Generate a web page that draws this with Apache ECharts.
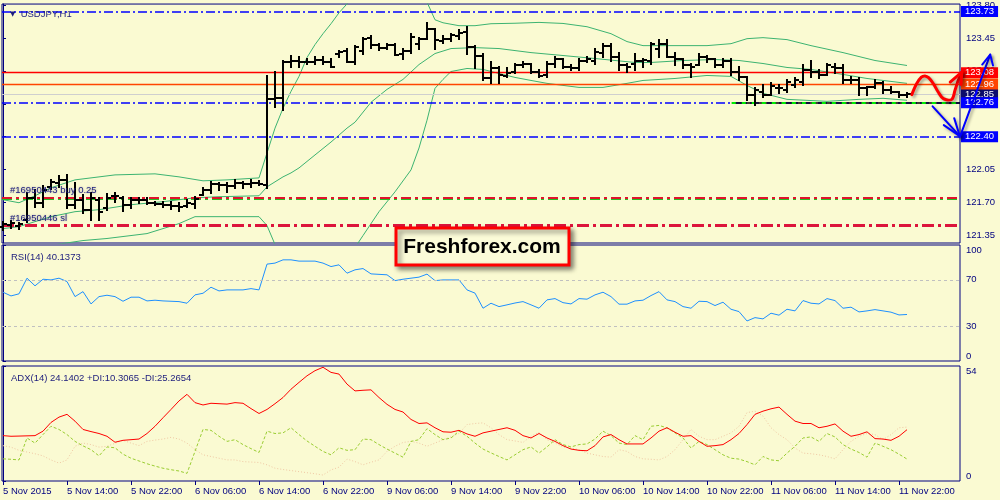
<!DOCTYPE html>
<html><head><meta charset="utf-8">
<script src="https://cdn.jsdelivr.net/npm/echarts@6/dist/echarts.min.js"></script>
<style>html,body{margin:0;padding:0;background:#fafad2;}#c{width:1000px;height:500px;}</style>
</head><body><div id="c"></div>
<script>
// ---------- data ----------
const timeLabels = ['5 Nov 2015','5 Nov 14:00','5 Nov 22:00','6 Nov 06:00','6 Nov 14:00','6 Nov 22:00','9 Nov 06:00','9 Nov 14:00','9 Nov 22:00','10 Nov 06:00','10 Nov 14:00','10 Nov 22:00','11 Nov 06:00','11 Nov 14:00','11 Nov 22:00'];
const timeLabelIndex = [0,8,16,24,32,40,48,56,64,72,80,88,96,104,112];

const opens = [121.444,121.466,121.455,121.518,121.751,121.698,121.867,121.909,121.941,121.677,
121.730,121.624,121.730,121.645,121.772,121.751,121.677,121.730,121.730,121.698,
121.688,121.677,121.666,121.666,121.688,121.783,121.836,121.899,121.888,121.878,
121.909,121.899,121.909,121.888,122.797,122.808,123.189,123.210,123.189,123.189,
123.220,123.199,123.284,123.315,123.189,123.315,123.453,123.379,123.347,123.379,
123.284,123.315,123.389,123.442,123.548,123.421,123.442,123.474,123.516,123.358,
123.263,123.019,123.125,123.041,123.083,123.157,123.178,123.083,123.051,123.178,
123.231,123.146,123.125,123.210,123.210,123.294,123.368,123.242,123.157,123.178,
123.210,123.210,123.337,123.389,123.252,123.231,123.167,123.167,123.242,123.231,
123.157,123.210,123.083,123.030,122.840,122.871,122.840,122.914,122.893,122.945,
122.977,123.104,123.083,123.051,123.146,123.125,122.998,122.998,122.914,122.924,
122.967,122.893,122.871,122.840];
const highs = [121.497,121.508,121.487,121.804,121.836,121.878,121.941,121.983,121.994,121.909,
121.783,121.804,121.751,121.793,121.804,121.762,121.751,121.751,121.751,121.709,
121.709,121.709,121.698,121.730,121.762,121.857,121.920,121.909,121.909,121.941,
121.920,121.941,121.931,123.041,123.083,123.210,123.263,123.252,123.231,123.242,
123.242,123.231,123.315,123.337,123.368,123.453,123.474,123.389,123.389,123.389,
123.337,123.495,123.453,123.611,123.548,123.474,123.495,123.537,123.569,123.368,
123.284,123.189,123.136,123.125,123.178,123.189,123.178,123.104,123.189,123.242,
123.231,123.157,123.231,123.242,123.337,123.389,123.389,123.294,123.178,123.284,
123.231,123.400,123.432,123.432,123.294,123.231,123.178,123.284,123.263,123.231,
123.231,123.231,123.136,123.030,122.914,122.945,122.967,122.945,122.998,123.019,
123.157,123.210,123.104,123.178,123.178,123.157,123.030,123.019,122.924,122.998,
122.977,122.924,122.871,122.861];
const lows = [121.413,121.434,121.423,121.497,121.656,121.656,121.846,121.867,121.645,121.645,
121.592,121.518,121.518,121.624,121.709,121.614,121.645,121.698,121.688,121.677,
121.656,121.635,121.614,121.656,121.645,121.783,121.804,121.836,121.814,121.857,
121.857,121.867,121.888,121.857,122.713,122.681,123.136,123.146,123.178,123.178,
123.178,123.146,123.242,123.189,123.178,123.284,123.347,123.326,123.337,123.273,
123.231,123.294,123.337,123.442,123.337,123.400,123.421,123.442,123.284,123.125,
122.998,122.967,122.967,123.030,123.072,123.136,123.072,123.030,123.030,123.136,
123.125,123.104,123.104,123.189,123.178,123.242,123.210,123.104,123.083,123.104,
123.136,123.178,123.242,123.242,123.167,123.125,123.030,123.157,123.199,123.136,
123.136,123.051,122.998,122.787,122.734,122.819,122.840,122.861,122.871,122.924,
122.945,123.030,123.019,123.051,123.072,122.967,122.967,122.840,122.840,122.914,
122.861,122.861,122.819,122.819];
const closes = [121.476,121.487,121.476,121.751,121.698,121.836,121.920,121.941,121.677,121.730,
121.624,121.751,121.603,121.751,121.772,121.677,121.730,121.730,121.698,121.688,
121.677,121.666,121.656,121.698,121.740,121.836,121.899,121.888,121.878,121.909,
121.899,121.909,121.899,122.797,122.808,123.189,123.210,123.189,123.189,123.220,
123.199,123.146,123.305,123.199,123.358,123.442,123.379,123.347,123.379,123.273,
123.315,123.463,123.442,123.548,123.432,123.442,123.485,123.506,123.358,123.263,
123.019,123.125,123.051,123.072,123.157,123.178,123.083,123.041,123.178,123.231,
123.146,123.125,123.210,123.231,123.305,123.368,123.242,123.157,123.146,123.210,
123.220,123.389,123.389,123.252,123.231,123.167,123.146,123.242,123.231,123.157,
123.210,123.083,123.030,122.840,122.893,122.840,122.935,122.914,122.977,122.998,
123.104,123.083,123.051,123.157,123.125,122.998,122.998,122.914,122.924,122.967,
122.893,122.871,122.840,122.850];

// Bollinger bands: [bar index, price]
const bbUpper = [[0,121.730],[2,121.698],[4,121.772],[6,121.857],[9,121.941],[14,121.994],[19,122.005],[22,121.973],[25,121.931],[28,121.941],[32,121.962],[33,122.227],[34,122.491],[35,122.702],[36,122.882],[37,123.041],[38,123.242],[39,123.379],[40,123.495],[41,123.601],[42,123.717],[43,123.812],[45,124.050],[48,124.120],[51,124.050],[52,124.000],[53,123.830],[54,123.643],[55,123.611],[57,123.580],[59,123.580],[61,123.601],[64,123.606],[67,123.615],[70,123.604],[73,123.569],[76,123.495],[78,123.411],[80,123.368],[84,123.368],[88,123.368],[91,123.389],[93,123.442],[95,123.453],[98,123.432],[101,123.368],[105,123.294],[109,123.210],[113,123.157]];
const bbMiddle = [[0,121.423],[2,121.444],[4,121.497],[6,121.550],[9,121.603],[12,121.624],[16,121.677],[20,121.709],[24,121.751],[27,121.762],[32,121.772],[33,121.867],[34,121.920],[35,121.973],[36,122.015],[37,122.068],[39,122.206],[41,122.343],[43,122.491],[44,122.554],[46,122.766],[48,122.903],[50,123.009],[52,123.167],[54,123.284],[56,123.337],[59,123.347],[62,123.337],[66,123.294],[70,123.263],[74,123.231],[79,123.189],[81,123.189],[85,123.210],[89,123.220],[92,123.210],[95,123.178],[98,123.136],[101,123.115],[105,123.062],[108,123.019],[113,122.967]];
const bbLower = [[0,121.148],[5,121.233],[10,121.296],[13,121.318],[18,121.370],[22,121.476],[24,121.550],[32,121.550],[33,121.455],[34,121.254],[35,121.117],[37,121.011],[40,120.969],[42,121.074],[44,121.222],[45,121.349],[47,121.603],[49,121.814],[51,122.047],[52,122.280],[53,122.575],[54,122.914],[55,123.009],[56,123.093],[58,123.125],[60,123.115],[62,123.072],[64,123.030],[66,122.998],[68,122.967],[72,122.924],[75,122.924],[78,122.967],[80,122.998],[84,123.019],[88,123.051],[91,123.041],[93,122.945],[95,122.861],[98,122.797],[103,122.776],[107,122.797],[110,122.808],[113,122.787]];

const rsi = [59.3,56.1,57.9,71.4,64.8,70.5,69.9,71.4,68.5,55.5,
59.8,49.2,55.5,56.7,55.5,51.5,55.0,55.0,51.8,52.4,
51.8,51.5,51.2,49.8,57.0,58.4,63.6,60.4,61.3,61.3,
61.3,62.4,61.3,83.5,84.4,87.2,87.2,86.1,86.1,86.1,
84.4,81.4,82.9,75.7,78.6,79.7,75.1,74.7,74.3,69.3,
70.5,71.4,72.3,74.9,69.3,69.9,69.9,69.9,61.3,58.5,
45.5,49.8,46.9,48.4,50.0,51.2,48.4,45.5,52.7,53.8,
50.3,49.2,53.8,53.3,57.0,59.3,55.5,49.0,49.0,51.8,
52.4,56.4,59.8,52.7,51.2,46.9,45.5,51.5,51.2,47.8,
50.7,44.6,42.6,34.5,37.4,36.3,41.2,39.5,44.6,43.2,
52.1,49.8,49.2,53.8,52.1,45.5,46.4,42.3,43.2,44.3,
43.2,42.1,39.7,40.1];
const adx = [21.3,21.0,21.1,21.2,21.3,23.4,27.5,30.0,31.3,28.1,
24.2,23.2,22.3,21.0,18.2,19.1,19.4,19.7,22.3,25.7,
29.7,33.6,37.6,40.7,36.8,35.7,36.5,36.3,36.1,36.8,
36.5,34.0,31.7,33.6,36.3,39.2,43.1,46.3,49.4,51.8,
53.4,51.0,50.2,45.5,42.3,42.6,42.8,39.2,36.0,33.6,
32.4,28.9,27.0,27.3,25.0,23.1,22.9,23.8,22.1,21.0,
22.6,23.4,24.2,25.0,23.8,21.3,20.2,22.3,20.2,18.6,
16.6,15.0,14.4,14.2,16.6,20.7,21.8,19.4,17.4,17.4,
17.4,20.2,23.4,25.0,22.9,21.0,21.3,18.6,16.3,16.6,
17.1,19.4,22.3,26.5,31.3,32.8,33.9,34.7,31.3,28.1,
27.0,27.0,25.0,25.7,26.8,23.4,21.0,21.8,23.1,19.9,
19.7,19.1,21.0,24.1];
const plusDi = [10.4,10.2,9.9,20.2,17.8,21.8,25.7,24.2,21.8,18.6,
16.5,14.7,11.8,16.0,15.6,12.6,10.7,9.4,8.1,7.0,
6.0,5.3,4.7,3.6,13.9,24.2,23.8,21.0,18.6,19.4,
17.1,15.2,13.4,23.4,22.3,22.6,25.0,21.8,18.8,16.3,
13.9,12.3,15.6,14.4,14.7,19.7,19.4,17.1,15.0,13.1,
11.2,18.6,19.4,24.6,21.8,19.4,20.2,23.4,21.0,17.8,
15.0,13.2,11.5,9.9,12.3,14.7,16.0,13.1,16.0,19.4,
17.1,16.0,17.1,17.4,19.7,23.4,21.3,17.8,17.1,21.3,
19.4,25.7,26.1,25.0,22.6,20.2,15.5,18.6,17.1,14.7,
12.3,10.7,10.3,9.1,7.6,11.5,9.9,9.5,13.1,16.3,
20.2,20.7,18.6,22.3,20.7,17.1,15.0,13.4,11.2,17.8,
16.3,14.7,12.6,10.3];
const minusDi = [16.6,15.9,14.4,13.6,12.8,11.8,9.9,8.4,9.9,16.3,
17.8,17.1,15.9,16.3,17.7,19.1,17.8,16.6,18.6,19.2,
19.7,20.5,19.7,17.8,14.7,12.3,11.5,10.7,9.9,9.9,
9.1,8.9,8.7,7.6,6.0,5.4,4.9,4.4,3.9,3.4,
2.8,5.2,6.5,10.3,9.1,7.6,8.8,9.9,13.9,16.3,
18.1,18.6,17.8,16.3,17.8,19.4,20.7,22.3,26.5,27.0,
27.3,25.0,21.8,19.4,18.8,18.1,21.0,22.9,19.4,17.8,
16.0,15.5,14.7,13.1,12.3,11.5,11.2,14.7,13.9,11.5,
10.4,10.2,9.9,11.5,14.7,19.4,24.2,21.0,19.4,19.4,
21.0,22.6,25.7,32.1,32.8,30.5,25.0,21.8,19.4,15.5,
13.1,12.8,12.3,11.5,10.4,14.7,18.6,21.0,22.3,21.8,
19.4,21.8,25.0,25.3];

// horizontal levels
const blueLevels = [123.73, 122.76, 122.40];
const redLevel = [123.08];
const orangeLevel = [122.96];
const bidLevel = [122.85];
const buyLevels = [121.752, 121.738];   // red order line and the green line just under it
const slLevel = [121.46];
const orderTexts = ['#16950443 buy 0.25', '#16950446 sl'];
const supportStart = [91.1];
const priceTicks = [121.35, 121.70, 122.05, 122.40, 122.75, 123.10, 123.45, 123.80];
const rsiTicks = [0, 30, 70, 100];
const rsiLevels = [70, 30];
const adxTicks = [0, 54];

// hand-drawn annotations in [bar index, price]
const redCurve = [[113.6,122.847],[114.2,122.963],[114.8,123.033],[115.25,123.046],[115.7,123.027],[116.3,122.963],[116.9,122.875],[117.55,122.805],[118.6,122.797],[119.0,122.893],[119.4,122.998],[119.85,123.086]];
const redHead = [[118.4,122.980],[119.85,123.086],[119.75,122.956]];
const blueDown = [[116.2,122.723],[119.6,122.406]];
const blueDownHead = [[117.6,122.523],[119.6,122.406],[118.9,122.597]];
const blueUp = [[119.6,122.396],[123.4,123.273]];
const blueUpHead = [[122.4,123.167],[123.4,123.273],[123.75,123.157]];

// ---------- chart ----------
const FONT = '"Liberation Sans", Arial, sans-serif';
const NAVY = '#000080';
const TXT = '#1c1c7c';
const BG = '#fafad2';
const X_MIN = -0.125, X_MAX = 119.625;
const chart = echarts.init(document.getElementById('c'));

const gridBase = {show:true, borderColor:NAVY, borderWidth:1, backgroundColor:BG, left:2, right:40};
const xBase = (i) => ({type:'value', gridIndex:i, min:X_MIN, max:X_MAX, splitLine:{show:false}, axisLine:{show:false}, axisTick:{show:false}, axisLabel:{show:false}});
const yBase = (i, min, max, ticks, fmt) => ({type:'value', gridIndex:i, position:'right', min, max, splitLine:{show:false},
  axisLine:{show:true, lineStyle:{color:NAVY}},
  axisTick:{show:true, customValues:ticks, length:3, lineStyle:{color:NAVY}},
  axisLabel:{customValues:ticks, formatter:fmt, color:NAVY, fontSize:9.5, fontFamily:FONT, margin:6,
    verticalAlignMinLabel: i===0 ? 'middle' : 'bottom', verticalAlignMaxLabel: i===0 ? 'middle' : 'top'}});

const tagLabel = (bg) => ({show:true, position:'end', distance:1, formatter:(p)=>p.value.toFixed(2), color:'#fff', backgroundColor:bg, fontSize:9.5, fontFamily:FONT, padding:[1,4,0,4], lineHeight:10});
const orderLabel = (txt) => ({show:true, position:'insideStartTop', distance:2, formatter:txt, color:TXT, fontSize:9.5, fontFamily:FONT, padding:[0,0,0,6], textShadowColor:'rgba(0,0,90,0.35)', textShadowBlur:2});

const hLines = [];
hLines.push({yAxis:buyLevels[1], lineStyle:{color:'#22c022', width:2, type:[10,4,3,4]}, label:{show:false}});
hLines.push({yAxis:buyLevels[0], lineStyle:{color:'#e0142c', width:2, type:[10,4,3,4]}, label:orderLabel(orderTexts[0])});
hLines.push({yAxis:slLevel[0], lineStyle:{color:'#dc143c', width:3, type:[12,4,3,4]}, label:orderLabel(orderTexts[1])});
hLines.push({yAxis:bidLevel[0], lineStyle:{color:'#cfcfcf', width:1, type:'solid'}, label:tagLabel('#0c0c6c')});
hLines.push({yAxis:redLevel[0], lineStyle:{color:'#ff0000', width:1.3, type:'solid'}, label:tagLabel('#ff0000')});
hLines.push({yAxis:orangeLevel[0], lineStyle:{color:'#ff4500', width:1.3, type:'solid'}, label:tagLabel('#ff4500')});
blueLevels.forEach(v => hLines.push({yAxis:v, lineStyle:{color:'#0000ff', width:1.5, type:[9,3,2,3]}, label:tagLabel('#0000ff')}));
hLines.push([{coord:[supportStart[0], blueLevels[1]], lineStyle:{color:'#000', width:1.5, type:'solid'}, label:{show:false}}, {coord:[X_MAX, blueLevels[1]]}]);
hLines.push([{coord:[supportStart[0], blueLevels[1]], lineStyle:{color:'#00ee00', width:2, type:[4,6]}, label:{show:false}}, {coord:[X_MAX, blueLevels[1]]}]);

const ohlc = opens.map((o,i)=>[i, o, highs[i], lows[i], closes[i]]);

const annot = (paths, color, width, smooth) => ({
  type:'custom', xAxisIndex:0, yAxisIndex:0, clip:false, z:20, silent:true, data:[[0,122]],
  renderItem:(p, api) => ({type:'group', children: paths.map(path => ({
    type:'polyline', shape:{points: path.map(pt => api.coord(pt)), smooth: smooth||0},
    style:{stroke:color, lineWidth:width, fill:null, lineJoin:'round', lineCap:'round', shadowBlur:3, shadowColor:'rgba(0,0,0,0.35)', shadowOffsetX:2, shadowOffsetY:2}
  }))})
});

const bbStyle = {color:'#3cb371', width:1};
const option = {
  animation:false,
  backgroundColor:BG,
  textStyle:{fontFamily:FONT},
  title:[
    {text:'{t|▼}  USDJPY,H1', left:5, top:4, textStyle:{fontSize:9.5, fontWeight:'normal', color:TXT, fontFamily:FONT, rich:{t:{fontSize:7, color:TXT, fontFamily:'DejaVu Sans'}}}},
    {text:'RSI(14) 40.1373', left:6, top:247, textStyle:{fontSize:9.5, fontWeight:'normal', color:TXT, fontFamily:FONT}},
    {text:'ADX(14) 24.1402 +DI:10.3065 -DI:25.2654', left:6, top:368, textStyle:{fontSize:9.5, fontWeight:'normal', color:TXT, fontFamily:FONT}}
  ],
  grid:[
    Object.assign({}, gridBase, {top:3, height:240}),
    Object.assign({}, gridBase, {top:245, height:116}),
    Object.assign({}, gridBase, {top:366, height:115})
  ],
  xAxis:[xBase(0), xBase(1), Object.assign(xBase(2), {
    axisTick:{show:true, customValues:timeLabelIndex, length:4, lineStyle:{color:NAVY}},
    axisLabel:{show:true, customValues:timeLabelIndex, formatter:(v)=>timeLabels[timeLabelIndex.indexOf(Math.round(v))], align:'left', color:NAVY, fontSize:9.5, fontFamily:FONT, margin:5}
  })],
  yAxis:[
    yBase(0, 121.27, 123.81, priceTicks, v=>v.toFixed(2)),
    yBase(1, 0, 100, rsiTicks, v=>String(Math.round(v))),
    yBase(2, 0, 54, adxTicks, v=>String(Math.round(v)))
  ],
  series:[
    {type:'line', xAxisIndex:0, yAxisIndex:0, data:bbLower, showSymbol:false, lineStyle:bbStyle, z:2, silent:true,
      markLine:{silent:true, symbol:['none','none'], animation:false, data:hLines}},
    {type:'line', xAxisIndex:0, yAxisIndex:0, data:bbMiddle, showSymbol:false, lineStyle:bbStyle, z:2, silent:true},
    {type:'line', xAxisIndex:0, yAxisIndex:0, data:bbUpper, showSymbol:false, lineStyle:bbStyle, z:2, silent:true},
    {type:'custom', xAxisIndex:0, yAxisIndex:0, z:5, silent:true, data:ohlc, encode:{x:0, y:[1,2,3,4]},
      renderItem:(p, api) => {
        const k = api.value(0);
        const o = api.coord([k, api.value(1)]);
        const h = api.coord([k, api.value(2)]);
        const l = api.coord([k, api.value(3)]);
        const c = api.coord([k, api.value(4)]);
        const x = Math.round(o[0]);
        const st = {stroke:'#000', lineWidth:2};
        return {type:'group', children:[
          {type:'line', shape:{x1:x, y1:Math.round(h[1])-1, x2:x, y2:Math.round(l[1])+1}, style:st},
          {type:'line', shape:{x1:x-4, y1:Math.round(o[1]), x2:x, y2:Math.round(o[1])}, style:st},
          {type:'line', shape:{x1:x, y1:Math.round(c[1]), x2:x+4, y2:Math.round(c[1])}, style:st}
        ]};
      }},
    {type:'line', xAxisIndex:1, yAxisIndex:1, data:rsi.map((v,i)=>[i,v]), showSymbol:false, lineStyle:{color:'#1e90ff', width:1}, silent:true,
      markLine:{silent:true, symbol:['none','none'], label:{show:false}, lineStyle:{color:'#c0c0c0', type:[3,3], width:1}, data:rsiLevels.map(v=>({yAxis:v}))}},
    {type:'line', xAxisIndex:2, yAxisIndex:2, data:minusDi.map((v,i)=>[i,v]), showSymbol:false, lineStyle:{color:'#f0c8a4', width:1, type:[1,2]}, silent:true, z:2},
    {type:'line', xAxisIndex:2, yAxisIndex:2, data:plusDi.map((v,i)=>[i,v]), showSymbol:false, lineStyle:{color:'#9acd32', width:1, type:[3,2]}, silent:true, z:3},
    {type:'line', xAxisIndex:2, yAxisIndex:2, data:adx.map((v,i)=>[i,v]), showSymbol:false, lineStyle:{color:'#ff0000', width:1}, silent:true, z:4},
    annot([redCurve], '#ff0000', 3, 0.35),
    annot([redHead], '#ff0000', 3, 0),
    annot([blueDown, blueDownHead, blueUp, blueUpHead], '#0000ff', 2, 0)
  ],
  graphic:[
    {type:'rect', z:100, shape:{x:396, y:228, width:173, height:37}, style:{fill:'#fbfbd8', stroke:'#ff0000', lineWidth:3, shadowBlur:5, shadowColor:'rgba(0,0,0,0.45)', shadowOffsetX:3, shadowOffsetY:3}},
    {type:'text', z:101, x:482, y:247, style:{text:'Freshforex.com', font:'bold 21px "Liberation Sans", Arial, sans-serif', fill:'#000', align:'center', verticalAlign:'middle'}}
  ]
};
chart.setOption(option);
</script>
</body></html>
